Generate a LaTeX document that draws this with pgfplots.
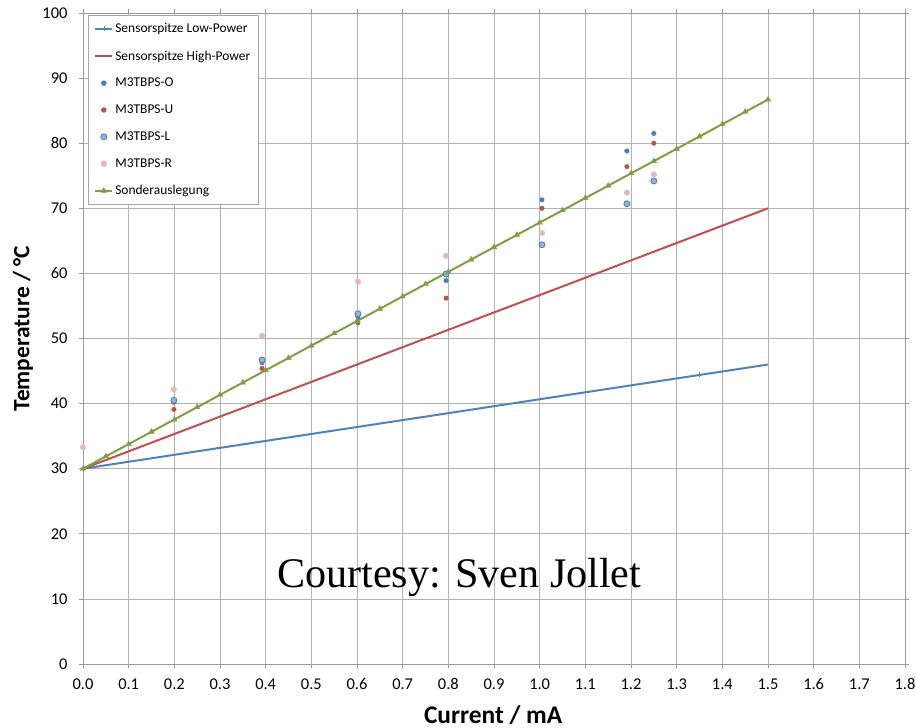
\documentclass[border=0pt]{standalone}
\usepackage{pgfplots}
\pgfplotsset{compat=1.18}
\usepackage{fontspec}
\setmainfont{Carlito}
\newfontfamily\timesfont{Liberation Serif}
\definecolor{cblue}{HTML}{4F81BD}
\definecolor{cred}{HTML}{C0504D}
\definecolor{cgreen}{HTML}{7F9F42}
\definecolor{cO}{HTML}{4A7EBB}
\definecolor{cLfill}{HTML}{95B3D7}
\definecolor{cR}{HTML}{E6B9B8}
\begin{document}
\begin{tikzpicture}
\begin{axis}[
  name=ax,
  scale only axis, width=822bp, height=651bp,
  xmin=0, xmax=1.8, ymin=0, ymax=100,
  xtick distance=0.1, ytick distance=10,
  grid=major, grid style={draw=gray!60, line width=0.7pt},
  axis line style={draw=gray!80, line width=0.7pt},
  tick style={draw=gray!80, line width=0.7pt},
  tick align=outside, major tick length=4bp,
  /pgf/number format/assume math mode=true,
  ticklabel style={font=\fontsize{16.5}{18}\selectfont},
  xticklabel style={yshift=-7bp, /pgf/number format/.cd, fixed, fixed zerofill, precision=1},
  yticklabel style={xshift=-8bp, /pgf/number format/.cd, fixed, precision=0},
  xlabel={\bfseries Current / mA},
  ylabel={\bfseries Temperature / °C},
  xlabel style={font=\fontsize{25.5}{28}\selectfont, at={(axis description cs:0.499,-0.078)}, anchor=center},
  ylabel style={font=\fontsize{23.5}{26}\selectfont, at={(axis description cs:-0.073,0.515)}, anchor=center},
  legend style={at={(axis description cs:0.006,0.997)}, anchor=north west,
    draw=gray!70, line width=0.8pt, fill=white,
    font=\fontsize{13.5}{15}\selectfont, row sep=12.6bp,
    inner xsep=6bp, inner ysep=6bp,
    nodes={anchor=west}},
  legend cell align=left,
]
% Sensorspitze Low-Power
\addplot[cblue, line width=2pt, mark=|, mark size=2.5pt, mark indices={2}, mark options={line width=0.6pt}]
  coordinates {(0,30) (1.35,44.4) (1.5,46.0)};
\addlegendentry{Sensorspitze Low-Power}
% Sensorspitze High-Power
\addplot[cred, line width=2pt, no marks]
  coordinates {(0,30) (1.5,70.0)};
\addlegendentry{Sensorspitze High-Power}
% M3TBPS-O
\addplot[only marks, color=cO, mark=*, mark size=2.3pt]
  coordinates {(0.199,40.2) (0.392,46.3) (0.602,53.3) (0.795,58.9) (1.005,71.3) (1.191,78.8) (1.250,81.5)};
\addlegendentry{M3TBPS-O}
% M3TBPS-U
\addplot[only marks, color=cred, mark=*, mark size=2.3pt]
  coordinates {(0.199,39.1) (0.392,45.4) (0.602,52.4) (0.795,56.2) (1.005,70.0) (1.191,76.4) (1.250,80.0)};
\addlegendentry{M3TBPS-U}
% M3TBPS-L
\addplot[only marks, color=cblue, mark=*, mark size=3pt, mark options={fill=cLfill, draw=cblue, line width=0.9pt}]
  coordinates {(0.199,40.5) (0.392,46.7) (0.602,53.8) (0.795,59.9) (1.005,64.4) (1.191,70.7) (1.250,74.2)};
\addlegendentry{M3TBPS-L}
% M3TBPS-R
\addplot[only marks, color=cR, mark=*, mark size=2.8pt]
  coordinates {(0.0,33.3) (0.199,42.2) (0.392,50.4) (0.602,58.7) (0.795,62.7) (1.005,66.2) (1.191,72.4) (1.250,75.2)};
\addlegendentry{M3TBPS-R}
% Sonderauslegung
\addplot[cgreen, line width=2pt, mark=triangle*, mark size=3.2pt, mark options={fill=cgreen, draw=cgreen, line width=0.4pt}]
  coordinates {(0,30.00) (0.05,31.89) (0.10,33.78) (0.15,35.67) (0.20,37.56) (0.25,39.45)
  (0.30,41.34) (0.35,43.23) (0.40,45.12) (0.45,47.01) (0.50,48.90) (0.55,50.79)
  (0.60,52.68) (0.65,54.57) (0.70,56.46) (0.75,58.35) (0.80,60.24) (0.85,62.13)
  (0.90,64.02) (0.95,65.91) (1.00,67.80) (1.05,69.69) (1.10,71.58) (1.15,73.47)
  (1.20,75.36) (1.25,77.25) (1.30,79.14) (1.35,81.03) (1.40,82.92) (1.45,84.81) (1.50,86.70)};
\addlegendentry{Sonderauslegung}
\node[anchor=base west, inner sep=0pt, font=\timesfont\fontsize{42.3}{46}\selectfont] at (axis cs:0.425,11.8) {Courtesy: Sven Jollet};
\end{axis}
\pgfresetboundingbox
\useasboundingbox ([shift={(-83bp,-64bp)}]ax.south west) rectangle ([shift={(11bp,13bp)}]ax.north east);
\end{tikzpicture}
\end{document}
